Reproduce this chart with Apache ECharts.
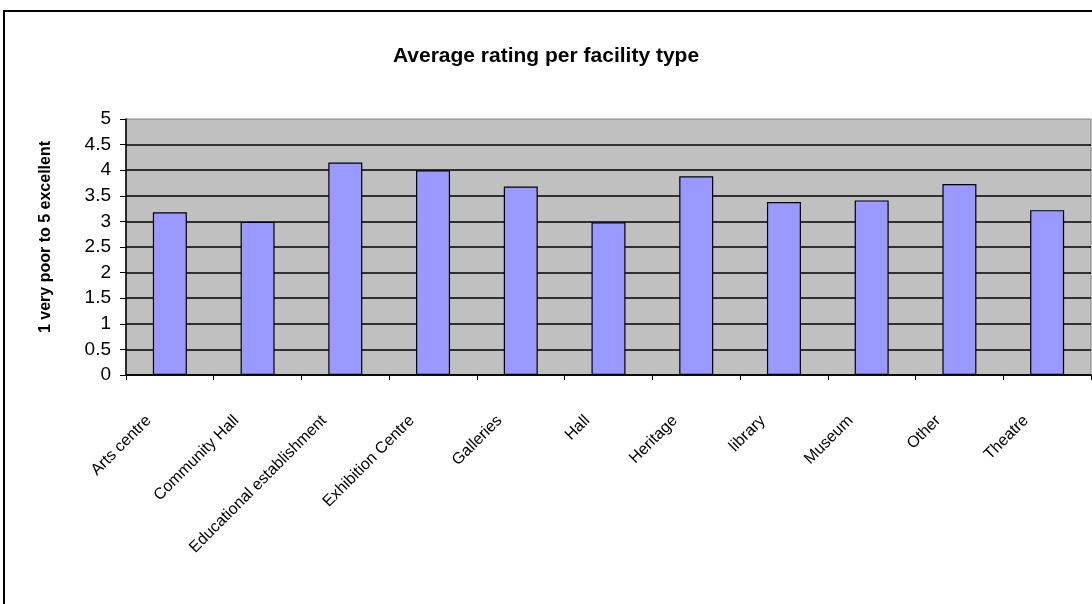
<!DOCTYPE html>
<html>
<head>
    <meta charset="utf-8">
    <title>Average rating per facility type</title>
    <script src="https://cdn.jsdelivr.net/npm/echarts@6/dist/echarts.min.js"></script>
    <style>
        html, body { margin: 0; padding: 0; background: #fff; }
        #chart { width: 1092px; height: 604px; }
    </style>
</head>
<body>
<div id="chart"></div>
<script>
    // 数据
    var categories = ['Arts centre', 'Community Hall', 'Educational establishment', 'Exhibition Centre',
        'Galleries', 'Hall', 'Heritage', 'library', 'Museum', 'Other', 'Theatre'];
    var ratings = [3.18, 2.99, 4.15, 4.0, 3.68, 2.98, 3.88, 3.38, 3.41, 3.73, 3.22];
    var yTicks = [0, 0.5, 1, 1.5, 2, 2.5, 3, 3.5, 4, 4.5, 5];

    var font = 'Arial, "Liberation Sans", sans-serif';
    var myChart = echarts.init(document.getElementById('chart'));

    var option = {
        animation: false,
        title: {
            text: 'Average rating per facility type',
            left: 'center',
            top: 41,
            textStyle: { fontFamily: font, fontSize: 21, fontWeight: 'bold', color: '#000' }
        },
        graphic: [{
            type: 'rect',
            shape: { x: 4, y: 11, width: 1100, height: 620 },
            style: { fill: 'none', stroke: '#000', lineWidth: 2 },
            z: -1
        }],
        grid: {
            left: 126, right: 1, top: 119, bottom: 229,
            show: true,
            backgroundColor: '#C0C0C0',
            borderColor: '#808080',
            borderWidth: 1
        },
        xAxis: {
            type: 'category',
            data: categories,
            axisLine: { lineStyle: { color: '#000', width: 1.5 } },
            axisTick: { show: true, length: 5, inside: false, alignWithLabel: false, lineStyle: { color: '#000' } },
            axisLabel: {
                rotate: 45,
                interval: 0,
                margin: 22,
                padding: [0, 30, 0, 0],
                fontFamily: font,
                fontSize: 16,
                color: '#000'
            }
        },
        yAxis: {
            type: 'value',
            min: yTicks[0],
            max: yTicks[yTicks.length - 1],
            interval: 0.5,
            name: '1 very poor to 5 excellent',
            nameLocation: 'middle',
            nameRotate: 90,
            nameGap: 72,
            nameTextStyle: { fontFamily: font, fontSize: 16, fontWeight: 'bold', color: '#000', padding: [0, 0, 0, 20] },
            axisLine: { show: true, lineStyle: { color: '#000', width: 1.5 } },
            axisTick: { show: true, length: 6, lineStyle: { color: '#000' } },
            axisLabel: {
                margin: 15,
                fontFamily: font,
                fontSize: 19,
                color: '#000',
                formatter: function (v) { return String(v); }
            },
            splitLine: { show: true, showMaxLine: false, lineStyle: { color: '#000', width: 1.5 } }
        },
        series: [{
            type: 'bar',
            data: ratings,
            barWidth: 34,
            itemStyle: { color: '#9999FF', borderColor: '#000', borderWidth: 1.2 }
        }]
    };
    myChart.setOption(option);
</script>
</body>
</html>
